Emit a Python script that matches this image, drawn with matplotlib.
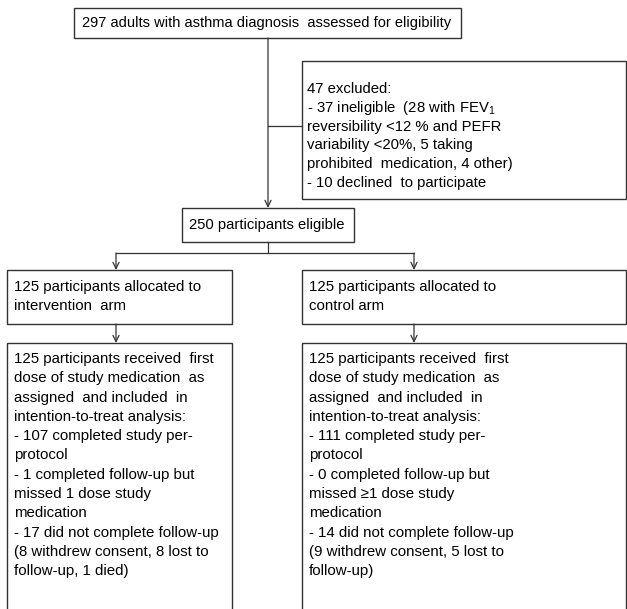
"""CONSORT-style flow chart of the asthma trial"""

import matplotlib
matplotlib.use("Agg")
from matplotlib import pyplot as plt
from matplotlib.patches import Rectangle

plt.rcParams['font.family'] = ['Liberation Sans', 'DejaVu Sans']
plt.rcParams['mathtext.fontset'] = 'custom'
plt.rcParams['mathtext.rm'] = 'Liberation Sans'

assessed_text = "297 adults with asthma diagnosis  assessed for eligibility"
excluded_lines = [
    "47 excluded:",
    "- 37 ineligible  (28 with FEV$_1$",
    "reversibility <12 % and PEFR",
    "variability <20%, 5 taking",
    "prohibited  medication, 4 other)",
    "- 10 declined  to participate",
]
eligible_text = "250 participants eligible"
allocated_lines = [
    ["125 participants allocated to", "intervention  arm"],
    ["125 participants allocated to", "control arm"],
]
received_lines = [
    ["125 participants received  first",
     "dose of study medication  as",
     "assigned  and included  in",
     "intention-to-treat analysis:",
     "- 107 completed study per-",
     "protocol",
     "- 1 completed follow-up but",
     "missed 1 dose study",
     "medication",
     "- 17 did not complete follow-up",
     "(8 withdrew consent, 8 lost to",
     "follow-up, 1 died)"],
    ["125 participants received  first",
     "dose of study medication  as",
     "assigned  and included  in",
     "intention-to-treat analysis:",
     "- 111 completed study per-",
     "protocol",
     "- 0 completed follow-up but",
     "missed \u22651 dose study",
     "medication",
     "- 14 did not complete follow-up",
     "(9 withdrew consent, 5 lost to",
     "follow-up)"],
]

W, H = 627, 609
fig = plt.figure(figsize=(W / 100, H / 100), dpi=100)
ax = fig.add_axes([0, 0, 1, 1])
ax.set_xlim(0, W)
ax.set_ylim(H, 0)
ax.axis('off')

EDGE = '#333333'
FS = 10.8
PITCH = 19.0


def box(x0, y0, x1, y1):
    ax.add_patch(Rectangle((x0, y0), x1 - x0, y1 - y0, fill=False,
                           ec=EDGE, lw=1.0, clip_on=False))


def lines_at(x, y, lines, pitch=PITCH, fs=FS):
    for i, s in enumerate(lines):
        ax.text(x, y + i * pitch, s, fontsize=fs, va='center', ha='left',
                color='black')


def arrow(x, y0, y1):
    ax.annotate('', xy=(x, y1), xytext=(x, y0),
                arrowprops=dict(arrowstyle='->,head_length=0.45,head_width=0.22',
                                color=EDGE, lw=0.9, shrinkA=0, shrinkB=0))


# top box
box(74, 8, 461, 38)
lines_at(82, 23, [assessed_text], fs=10.5)

# exclusion box and connector
box(302, 61, 626, 199)
lines_at(307, 89, excluded_lines, pitch=18.8, fs=10.7)
ax.plot([268, 302], [126, 126], color=EDGE, lw=0.9)
arrow(268, 38, 208)

# eligible box
box(182, 208, 354, 242)
lines_at(189, 225, [eligible_text], fs=10.6)

# split
ax.plot([268, 268], [242, 253], color=EDGE, lw=0.9)
ax.plot([116, 414], [253, 253], color=EDGE, lw=0.9)
for cx in (116, 414):
    arrow(cx, 253, 270)
    arrow(cx, 324, 343)

# arm boxes
for (x0, x1), alloc, recv in zip([(7, 232), (302, 626)], allocated_lines, received_lines):
    box(x0, 270, x1, 324)
    lines_at(x0 + 7, 287, alloc, pitch=19.5)
    box(x0, 343, x1, 612)
    lines_at(x0 + 7, 359, recv, pitch=19.3)

fig.savefig('out.png', dpi=100)
